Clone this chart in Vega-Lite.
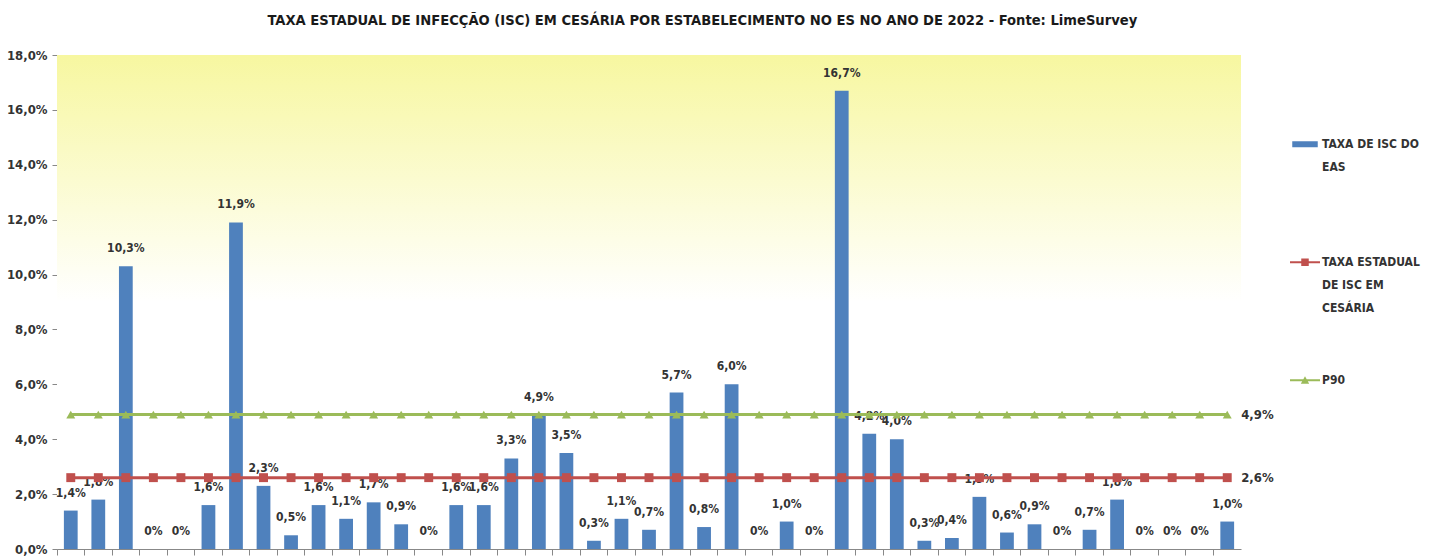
{
  "$schema": "https://vega.github.io/schema/vega-lite/v6.json",
  "width": 1184,
  "height": 494,
  "autosize": {"type": "none"},
  "padding": {"left": 57, "top": 55, "right": 195, "bottom": 10},
  "background": "white",
  "title": {
    "text": "TAXA ESTADUAL DE INFECÇÃO (ISC) EM CESÁRIA POR ESTABELECIMENTO NO ES NO ANO DE 2022 - Fonte: LimeSurvey",
    "font": "DejaVu Sans Condensed, Liberation Sans, sans-serif",
    "fontSize": 14.6,
    "fontWeight": "bold",
    "color": "#1a1a1a",
    "anchor": "start",
    "dx": 261,
    "offset": 21
  },
  "config": {
    "view": {"stroke": null},
    "font": "DejaVu Sans Condensed, Liberation Sans, sans-serif",
    "style": {"guide-label": {"lineHeight": 23}}
  },
  "datasets": {
    "eas": [
      {"id": 1, "taxa": 0.014, "estadual": 0.026, "p90": 0.049},
      {"id": 2, "taxa": 0.018, "estadual": 0.026, "p90": 0.049},
      {"id": 3, "taxa": 0.103, "estadual": 0.026, "p90": 0.049},
      {"id": 4, "taxa": 0, "estadual": 0.026, "p90": 0.049},
      {"id": 5, "taxa": 0, "estadual": 0.026, "p90": 0.049},
      {"id": 6, "taxa": 0.016, "estadual": 0.026, "p90": 0.049},
      {"id": 7, "taxa": 0.119, "estadual": 0.026, "p90": 0.049},
      {"id": 8, "taxa": 0.023, "estadual": 0.026, "p90": 0.049},
      {"id": 9, "taxa": 0.005, "estadual": 0.026, "p90": 0.049},
      {"id": 10, "taxa": 0.016, "estadual": 0.026, "p90": 0.049},
      {"id": 11, "taxa": 0.011, "estadual": 0.026, "p90": 0.049},
      {"id": 12, "taxa": 0.017, "estadual": 0.026, "p90": 0.049},
      {"id": 13, "taxa": 0.009, "estadual": 0.026, "p90": 0.049},
      {"id": 14, "taxa": 0, "estadual": 0.026, "p90": 0.049},
      {"id": 15, "taxa": 0.016, "estadual": 0.026, "p90": 0.049},
      {"id": 16, "taxa": 0.016, "estadual": 0.026, "p90": 0.049},
      {"id": 17, "taxa": 0.033, "estadual": 0.026, "p90": 0.049},
      {"id": 18, "taxa": 0.049, "estadual": 0.026, "p90": 0.049},
      {"id": 19, "taxa": 0.035, "estadual": 0.026, "p90": 0.049},
      {"id": 20, "taxa": 0.003, "estadual": 0.026, "p90": 0.049},
      {"id": 21, "taxa": 0.011, "estadual": 0.026, "p90": 0.049},
      {"id": 22, "taxa": 0.007, "estadual": 0.026, "p90": 0.049},
      {"id": 23, "taxa": 0.057, "estadual": 0.026, "p90": 0.049},
      {"id": 24, "taxa": 0.008, "estadual": 0.026, "p90": 0.049},
      {"id": 25, "taxa": 0.060, "estadual": 0.026, "p90": 0.049},
      {"id": 26, "taxa": 0, "estadual": 0.026, "p90": 0.049},
      {"id": 27, "taxa": 0.010, "estadual": 0.026, "p90": 0.049},
      {"id": 28, "taxa": 0, "estadual": 0.026, "p90": 0.049},
      {"id": 29, "taxa": 0.167, "estadual": 0.026, "p90": 0.049},
      {"id": 30, "taxa": 0.042, "estadual": 0.026, "p90": 0.049},
      {"id": 31, "taxa": 0.040, "estadual": 0.026, "p90": 0.049},
      {"id": 32, "taxa": 0.003, "estadual": 0.026, "p90": 0.049},
      {"id": 33, "taxa": 0.004, "estadual": 0.026, "p90": 0.049},
      {"id": 34, "taxa": 0.019, "estadual": 0.026, "p90": 0.049},
      {"id": 35, "taxa": 0.006, "estadual": 0.026, "p90": 0.049},
      {"id": 36, "taxa": 0.009, "estadual": 0.026, "p90": 0.049},
      {"id": 37, "taxa": 0, "estadual": 0.026, "p90": 0.049},
      {"id": 38, "taxa": 0.007, "estadual": 0.026, "p90": 0.049},
      {"id": 39, "taxa": 0.018, "estadual": 0.026, "p90": 0.049},
      {"id": 40, "taxa": 0, "estadual": 0.026, "p90": 0.049},
      {"id": 41, "taxa": 0, "estadual": 0.026, "p90": 0.049},
      {"id": 42, "taxa": 0, "estadual": 0.026, "p90": 0.049},
      {"id": 43, "taxa": 0.010, "estadual": 0.026, "p90": 0.049}
    ],
    "series": [
      {"serie": "TAXA DE ISC DO EAS"},
      {"serie": "TAXA ESTADUAL DE ISC EM CESÁRIA"},
      {"serie": "P90"}
    ],
    "bg": [{"top": 0.18, "bottom": 0}]
  },
  "data": {"name": "eas"},
  "encoding": {
    "x": {
      "field": "id",
      "type": "ordinal",
      "sort": null,
      "scale": {"paddingInner": 0, "paddingOuter": 0},
      "axis": {
        "title": null,
        "labels": false,
        "bandPosition": 0,
        "domainColor": "#888888",
        "tickColor": "#888888",
        "tickSize": 6,
        "grid": false
      }
    }
  },
  "layer": [
    {
      "data": {"name": "bg"},
      "mark": {
        "type": "rect",
        "color": {
          "gradient": "linear",
          "x1": 0, "y1": 0, "x2": 0, "y2": 1,
          "stops": [
            {"offset": 0, "color": "#f7f7a0"},
            {"offset": 0.5, "color": "#ffffff"}
          ]
        }
      },
      "encoding": {
        "x": null,
        "y": {"field": "top", "type": "quantitative"},
        "y2": {"field": "bottom"}
      }
    },
    {
      "mark": {"type": "bar", "color": "#4F81BD", "width": {"band": 0.5}},
      "encoding": {
        "y": {
          "field": "taxa",
          "type": "quantitative",
          "scale": {"domain": [0, 0.18], "nice": false},
          "axis": {
            "title": null,
            "values": [0, 0.02, 0.04, 0.06, 0.08, 0.1, 0.12, 0.14, 0.16, 0.18],
            "labelExpr": "replace(format(datum.value, '.1%'), '.', ',')",
            "labelFontSize": 13,
            "labelFontWeight": "bold",
            "labelColor": "#333333",
            "domainColor": "#888888",
            "tickColor": "#888888",
            "tickSize": 5,
            "labelPadding": 5,
            "grid": false
          }
        }
      }
    },
    {
      "transform": [
        {"calculate": "datum.taxa == 0 ? '0%' : replace(format(datum.taxa, '.1%'), '.', ',')", "as": "lbl"}
      ],
      "mark": {
        "type": "text",
        "baseline": "alphabetic",
        "dy": -14,
        "fontSize": 12,
        "fontWeight": "bold",
        "color": "#333333"
      },
      "encoding": {
        "y": {"field": "taxa", "type": "quantitative"},
        "text": {"field": "lbl"}
      }
    },
    {
      "mark": {"type": "line", "color": "#C0504D", "strokeWidth": 3},
      "encoding": {"y": {"field": "estadual", "type": "quantitative"}}
    },
    {
      "mark": {"type": "point", "shape": "square", "filled": true, "color": "#C0504D", "size": 80, "opacity": 1},
      "encoding": {"y": {"field": "estadual", "type": "quantitative"}}
    },
    {
      "mark": {"type": "line", "color": "#9BBB59", "strokeWidth": 3},
      "encoding": {"y": {"field": "p90", "type": "quantitative"}}
    },
    {
      "mark": {"type": "point", "shape": "triangle-up", "filled": true, "color": "#9BBB59", "size": 80, "opacity": 1},
      "encoding": {"y": {"field": "p90", "type": "quantitative"}}
    },
    {
      "transform": [{"filter": "datum.id == 43"}],
      "mark": {"type": "text", "align": "left", "dx": 14, "fontSize": 13, "fontWeight": "bold", "color": "#333333"},
      "encoding": {"y": {"field": "p90", "type": "quantitative"}, "text": {"value": "4,9%"}}
    },
    {
      "transform": [{"filter": "datum.id == 43"}],
      "mark": {"type": "text", "align": "left", "dx": 14, "fontSize": 13, "fontWeight": "bold", "color": "#333333"},
      "encoding": {"y": {"field": "estadual", "type": "quantitative"}, "text": {"value": "2,6%"}}
    },
    {
      "data": {"name": "series"},
      "transform": [{"calculate": "-0.05", "as": "off"}],
      "mark": {"type": "point", "filled": true, "clip": true, "size": 900, "opacity": 1},
      "encoding": {
        "x": null,
        "y": {"field": "off", "type": "quantitative"},
        "color": {
          "field": "serie",
          "type": "nominal",
          "sort": null,
          "scale": {
            "domain": ["TAXA DE ISC DO EAS", "TAXA ESTADUAL DE ISC EM CESÁRIA", "P90"],
            "range": ["#4F81BD", "#C0504D", "#9BBB59"]
          },
          "legend": {
            "title": null,
            "orient": "none",
            "legendX": 1233,
            "legendY": 78,
            "padding": 0,
            "gridAlign": "all",
            "rowPadding": 55,
            "symbolSize": 900,
            "symbolStrokeWidth": 0,
            "symbolOpacity": 1,
            "labelFontSize": 12,
            "labelFontWeight": "bold",
            "labelColor": "#333333",
            "labelBaseline": "alphabetic",
            "labelOffset": 2,
            "labelLimit": 200,
            "labelExpr": "datum.label == 'P90' ? 'P90' : (datum.label == 'TAXA DE ISC DO EAS' ? ['TAXA DE ISC DO', 'EAS'] : ['TAXA ESTADUAL', 'DE ISC EM', 'CESÁRIA'])"
          }
        },
        "shape": {
          "field": "serie",
          "type": "nominal",
          "sort": null,
          "scale": {
            "domain": ["TAXA DE ISC DO EAS", "TAXA ESTADUAL DE ISC EM CESÁRIA", "P90"],
            "range": [
              "M-0.85,-0.45H0.85V-0.05H-0.85Z",
              "M-1,-0.32H1V-0.18H-1Z M-0.25,-0.5H0.25V0H-0.25Z",
              "M-1,-0.32H1V-0.18H-1Z M0,-0.52L0.28,-0.02H-0.28Z"
            ]
          },
          "legend": null
        }
      }
    }
  ]
}
